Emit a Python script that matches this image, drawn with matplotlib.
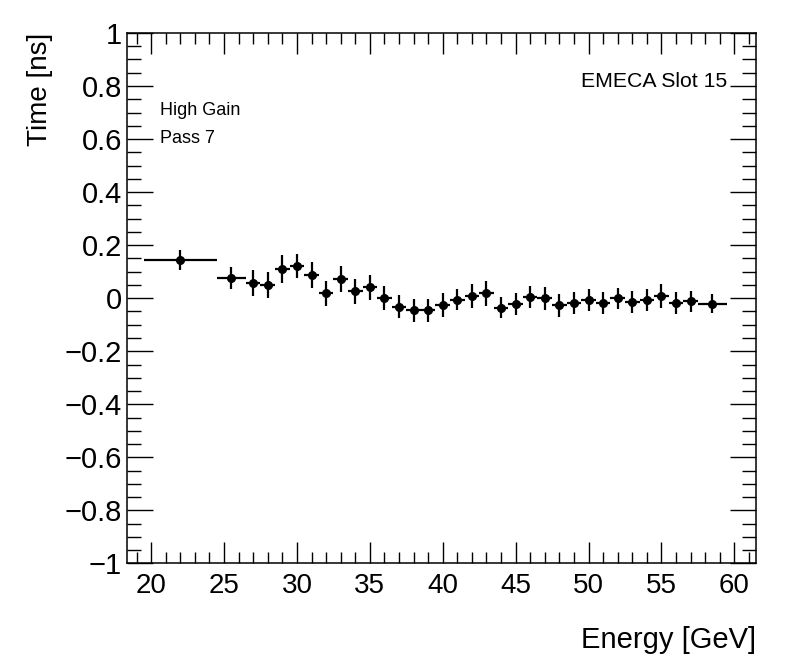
import matplotlib
matplotlib.use("Agg")
import matplotlib.pyplot as plt
from matplotlib.ticker import MultipleLocator

plt.rcParams['font.family'] = ['Liberation Sans', 'DejaVu Sans']

# Energy bin centres and half widths [GeV]
energy = [22, 25.5, 27, 28, 29, 30, 31, 32, 33, 34, 35, 36, 37, 38, 39, 40,
          41, 42, 43, 44, 45, 46, 47, 48, 49, 50, 51, 52, 53, 54, 55, 56, 57, 58.5]
energy_err = [2.5, 1.0] + [0.5] * 31 + [1.0]

# Mean time [ns] and its error
time = [0.143, 0.077, 0.058, 0.048, 0.111, 0.121, 0.087, 0.018, 0.071, 0.026,
        0.041, 0.000, -0.032, -0.046, -0.046, -0.027, -0.005, 0.008, 0.018, -0.036,
        -0.021, 0.004, -0.001, -0.027, -0.017, -0.008, -0.017, -0.001, -0.015, -0.008,
        0.008, -0.017, -0.011, -0.021]
time_err = [0.037, 0.041, 0.048, 0.049, 0.052, 0.046, 0.050, 0.048, 0.049, 0.046,
            0.048, 0.046, 0.043, 0.043, 0.044, 0.045, 0.041, 0.045, 0.046, 0.039,
            0.041, 0.041, 0.042, 0.042, 0.041, 0.042, 0.041, 0.041, 0.041, 0.042,
            0.046, 0.041, 0.040, 0.035]

fig = plt.figure(figsize=(7.96, 6.72), dpi=100)
ax = fig.add_axes([0.160, 0.1615, 0.790, 0.7895])

ax.errorbar(energy, time, xerr=energy_err, yerr=time_err, fmt='o', color='black',
            markersize=5.5, elinewidth=1.6, capsize=0)

ax.set_xlim(18.37, 61.5)
ax.set_ylim(-1, 1)

ax.xaxis.set_major_locator(MultipleLocator(5))
ax.xaxis.set_minor_locator(MultipleLocator(1))
ax.yaxis.set_major_locator(MultipleLocator(0.2))
ax.yaxis.set_minor_locator(MultipleLocator(0.05))

ax.tick_params(which='both', direction='in', top=True, right=True, width=1.0)
ax.tick_params(axis='x', which='major', length=15, pad=7, labelsize=20)
ax.tick_params(axis='x', which='minor', length=8)
ax.tick_params(axis='y', which='major', length=19, pad=4, labelsize=21)
ax.tick_params(axis='y', which='minor', length=10)
for s in ax.spines.values():
    s.set_linewidth(1.1)

ax.set_yticks([-1, -0.8, -0.6, -0.4, -0.2, 0, 0.2, 0.4, 0.6, 0.8, 1])
ax.set_yticklabels(['\u22121', '\u22120.8', '\u22120.6', '\u22120.4', '\u22120.2', '0',
                    '0.2', '0.4', '0.6', '0.8', '1'])

ax.set_xlabel("Energy [GeV]", fontsize=21, loc='right', labelpad=19)
ax.set_ylabel("Time [ns]", fontsize=20, loc='top', labelpad=8)

ax.text(0.954, 0.908, "EMECA Slot 15", transform=ax.transAxes, fontsize=15.3,
        ha='right', va='center')
ax.text(0.052, 0.854, "High Gain", transform=ax.transAxes, fontsize=13, ha='left', va='center')
ax.text(0.052, 0.801, "Pass 7", transform=ax.transAxes, fontsize=13, ha='left', va='center')

fig.savefig("out.png", dpi=100)
